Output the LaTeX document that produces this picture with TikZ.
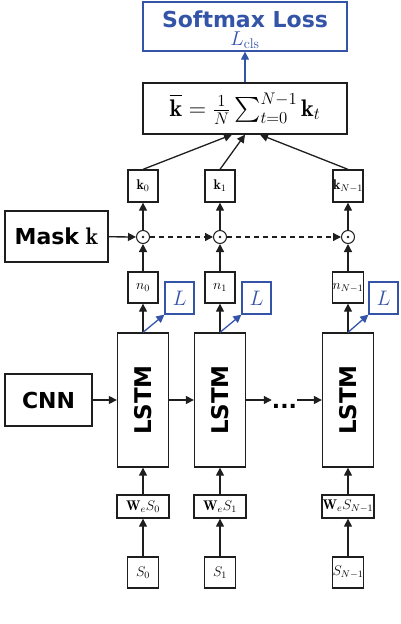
\RequirePackage{fix-cm}
\documentclass[tikz,border=0pt]{standalone}
\usepackage{amsmath}
\usepackage{fontspec}
\newfontfamily\dvs{DejaVu Sans}
\usetikzlibrary{arrows.meta}
\definecolor{lblue}{RGB}{52,84,168}
\definecolor{ink}{RGB}{30,30,30}
\newcommand{\fs}[1]{\fontsize{#1}{#1}\selectfont}
\begin{document}
\begin{tikzpicture}[x=1pt,y=-1pt,
  box/.style={draw=ink, line width=1.3pt, fill=white, inner sep=0pt, align=center},
  bbox/.style={draw=lblue, line width=1.3pt, fill=white, inner sep=0pt, align=center, text=lblue},
  arr/.style={draw=ink, line width=1.3pt, -{Triangle[length=8pt,width=8pt]}},
  barr/.style={draw=lblue, line width=1.3pt, -{Triangle[length=8pt,width=8pt]}},
  darr/.style={arr, dashed, dash pattern=on 5pt off 4pt},
  odotn/.style={circle, draw=ink, line width=1pt, fill=white, minimum size=13pt, inner sep=0pt},
  small/.style={box, minimum width=30pt, minimum height=32pt, font=\fs{14}},
  lbox/.style={bbox, minimum width=29pt, minimum height=32pt, font=\fs{21}},
  lstm/.style={box, minimum width=51pt, minimum height=134pt},
  web/.style={box, minimum width=52pt, minimum height=23pt, font=\fs{14}},
  sbox/.style={box, minimum width=31pt, minimum height=31pt, font=\fs{14}},
  bold/.style={font=\dvs\bfseries\fs{22}},
  btext/.style={anchor=base, inner sep=0pt, text=lblue}
]
\useasboundingbox (0,0) rectangle (400,624);

% top
\node[bbox, minimum width=204pt, minimum height=49pt] (soft) at (245,26.5) {};
\node[btext, font=\dvs\bfseries\fs{22}] (softt) at (245,27) {Softmax Loss};
\node[btext, font=\fs{20}] (softl) at (245,45.5) {$L_{\mathrm{cls}}$};
\node[box, minimum width=204pt, minimum height=51pt, font=\fs{24}] (avg) at (245,108.5)
  {$\overline{\mathbf{k}} = \frac{1}{N}\sum_{t=0}^{N-1}\mathbf{k}_t$};
\draw[barr] (avg) -- (soft);

% k boxes
\node[small] (k0) at (143,186) {$\mathbf{k}_0$};
\node[small] (k1) at (220,186) {$\mathbf{k}_1$};
\node[small] (k2) at (348,186) {$\mathbf{k}_{N-1}$};

\draw[arr] (k0.north) -- ([xshift=-13pt]avg.south);
\draw[arr] (k1.north) -- (avg.south);
\draw[arr] (k2.north) -- ([xshift=15pt]avg.south);

% odot
\node[odotn] (o0) at (143,237) {};
\node[odotn] (o1) at (220,237) {};
\node[odotn] (o2) at (348,237) {};
\foreach \o in {o0,o1,o2} \fill[ink] (\o) circle (1.3pt);

\node[box, minimum width=103pt, minimum height=51pt, font=\fs{22}] (mask) at (56.5,236.5)
  {{\dvs\bfseries Mask} {\fs{24}$\mathbf{k}$}};
\draw[arr] (mask) -- (o0);
\draw[darr] (o0) -- (o1);
\draw[darr] (o1) -- (o2);
\draw[arr] (o0) -- (k0);
\draw[arr] (o1) -- (k1);
\draw[arr] (o2) -- (k2);

% n boxes
\node[small, minimum height=31pt] (n0) at (143,287.5) {$n_0$};
\node[small, minimum height=31pt] (n1) at (220,287.5) {$n_1$};
\node[small, minimum height=31pt] (n2) at (348,287.5) {$n_{N-1}$};
\draw[arr] (n0) -- (o0);
\draw[arr] (n1) -- (o1);
\draw[arr] (n2) -- (o2);

% L boxes
\node[lbox] (L0) at (179.5,298) {$L$};
\node[lbox] (L1) at (256.5,298) {$L$};
\node[lbox] (L2) at (383.5,298) {$L$};

% LSTM
\node[lstm] (s0) at (143,400) {\rotatebox{90}{\dvs\bfseries\fs{23}LSTM}};
\node[lstm] (s1) at (220,400) {\rotatebox{90}{\dvs\bfseries\fs{23}LSTM}};
\node[lstm] (s2) at (348,400) {\rotatebox{90}{\dvs\bfseries\fs{23}LSTM}};
\node[box, minimum width=87pt, minimum height=52pt, bold] (cnn) at (48.5,400) {CNN};
\node[inner sep=0pt, minimum width=25pt, bold] (dots) at (284.5,400) {\vphantom{A}...};
\draw[arr] (cnn) -- (s0);
\draw[arr] (s0) -- (s1);
\draw[arr] (s1) -- (dots);
\draw[arr] (dots) -- (s2);

\draw[arr] (s0) -- (n0);
\draw[arr] (s1) -- (n1);
\draw[arr] (s2) -- (n2);
\draw[barr] (s0.north) -- (L0.south west);
\draw[barr] (s1.north) -- (L1.south west);
\draw[barr] (s2.north) -- (L2.south west);

% inputs
\node[web] (w0) at (143,506.5) {$\mathbf{W}_eS_0$};
\node[web] (w1) at (220,506.5) {$\mathbf{W}_eS_1$};
\node[web] (w2) at (348,506.5) {$\mathbf{W}_eS_{N-1}$};
\node[sbox] (x0) at (143,572.5) {$S_0$};
\node[sbox] (x1) at (220,572.5) {$S_1$};
\node[sbox] (x2) at (348,572.5) {$S_{N-1}$};
\draw[arr] (x0) -- (w0);
\draw[arr] (x1) -- (w1);
\draw[arr] (x2) -- (w2);
\draw[arr] (w0) -- (s0);
\draw[arr] (w1) -- (s1);
\draw[arr] (w2) -- (s2);
\end{tikzpicture}
\end{document}
